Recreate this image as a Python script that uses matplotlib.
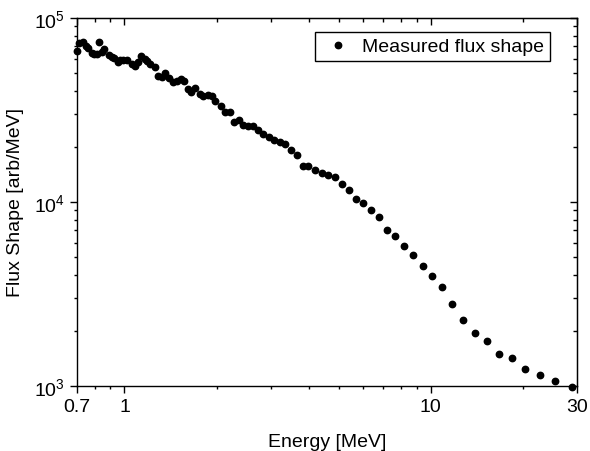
import matplotlib
matplotlib.use("Agg")
import matplotlib.pyplot as plt
from matplotlib.ticker import FixedLocator, LogLocator, NullFormatter

plt.rcParams['font.family'] = ['Liberation Sans', 'DejaVu Sans']

# Measured flux shape
energy = [0.700, 0.712, 0.731, 0.749, 0.762, 0.782, 0.796, 0.812, 0.828, 0.847,
          0.860, 0.892, 0.909, 0.927, 0.955, 0.967, 0.991, 1.017, 1.056, 1.082,
          1.110, 1.132, 1.167, 1.187, 1.212, 1.258, 1.289, 1.323, 1.361, 1.400,
          1.440, 1.480, 1.526, 1.564, 1.609, 1.652, 1.699, 1.760, 1.808, 1.877,
          1.926, 1.982, 2.061, 2.134, 2.210, 2.272, 2.359, 2.443, 2.536, 2.633,
          2.734, 2.838, 2.963, 3.082, 3.209, 3.342, 3.491, 3.649, 3.817, 3.981,
          4.187, 4.403, 4.606, 4.851, 5.117, 5.405, 5.698, 6.018, 6.377, 6.772,
          7.191, 7.665, 8.175, 8.745, 9.406, 10.09, 10.87, 11.75, 12.73, 13.91,
          15.22, 16.65, 18.36, 20.33, 22.71, 25.48, 28.83]
flux = [66200, 73100, 74500, 70400, 68700, 64500, 64000, 63700, 73800, 65350,
        67450, 62550, 61400, 60270, 57670, 58750, 59120, 59000, 56230, 55060,
        57440, 62160, 59860, 58390, 56570, 53830, 48400, 47500, 50250, 46900,
        44720, 45170, 46320, 45620, 41130, 39470, 41550, 38490, 37680, 38010,
        37450, 35390, 33330, 30720, 30920, 27320, 27800, 26220, 25720, 25880,
        24470, 23500, 22460, 21810, 21110, 20660, 19240, 18000, 15630, 15630,
        14920, 14320, 13970, 13620, 12570, 11620, 10380, 9850, 9070, 8260,
        7040, 6494, 5781, 5152, 4506, 3961, 3465, 2801, 2284, 1949,
        1763, 1493, 1425, 1242, 1152, 1060, 991]

x_major = [0.7, 1, 10, 30]
x_major_labels = ["0.7", "1", "10", "30"]

fig = plt.figure(figsize=(5.9, 4.52), dpi=100)
ax = fig.add_axes([0.1305, 0.1438, 0.8475, 0.8142])

ax.plot(energy, flux, 'o', color='black', markersize=4.6, linestyle='none',
        label="Measured flux shape", clip_on=False, zorder=3)

ax.set_xscale('log')
ax.set_yscale('log')
ax.set_xlim(0.7, 30)
ax.set_ylim(1e3, 1e5)

ax.xaxis.set_major_locator(FixedLocator(x_major))
ax.set_xticklabels(x_major_labels)
ax.xaxis.set_minor_locator(LogLocator(base=10, subs=range(2, 10)))
ax.xaxis.set_minor_formatter(NullFormatter())
ax.yaxis.set_minor_locator(LogLocator(base=10, subs=range(2, 10)))
ax.yaxis.set_minor_formatter(NullFormatter())

ax.tick_params(which='major', direction='out', length=5, width=1, labelsize=14)
ax.tick_params(which='minor', direction='out', length=2.5, width=1)
for sp in ax.spines.values():
    sp.set_linewidth(1.0)

# mirror ticks pointing inward on top and right
top = ax.secondary_xaxis('top')
top.xaxis.set_major_locator(FixedLocator(x_major))
top.xaxis.set_minor_locator(LogLocator(base=10, subs=range(2, 10)))
top.xaxis.set_major_formatter(NullFormatter())
top.xaxis.set_minor_formatter(NullFormatter())
top.tick_params(which='major', direction='in', length=5, width=1)
top.tick_params(which='minor', direction='in', length=3, width=1)

right = ax.secondary_yaxis('right')
right.yaxis.set_major_locator(LogLocator(base=10))
right.yaxis.set_minor_locator(LogLocator(base=10, subs=range(2, 10)))
right.yaxis.set_major_formatter(NullFormatter())
right.yaxis.set_minor_formatter(NullFormatter())
right.tick_params(which='major', direction='in', length=5, width=1)
right.tick_params(which='minor', direction='in', length=3, width=1)

ax.set_xlabel("Energy [MeV]", fontsize=14, labelpad=13)
ax.set_ylabel("Flux Shape [arb/MeV]", fontsize=14, labelpad=7)

leg = ax.legend(loc='upper right', bbox_to_anchor=(0.946, 0.962),
                bbox_transform=ax.transAxes, borderaxespad=0, fontsize=14,
                frameon=True, fancybox=False, edgecolor='black', framealpha=1,
                handlelength=1.8, handletextpad=0.35, borderpad=0.3)
leg.get_frame().set_linewidth(1.0)

fig.savefig("out.png", dpi=100)
